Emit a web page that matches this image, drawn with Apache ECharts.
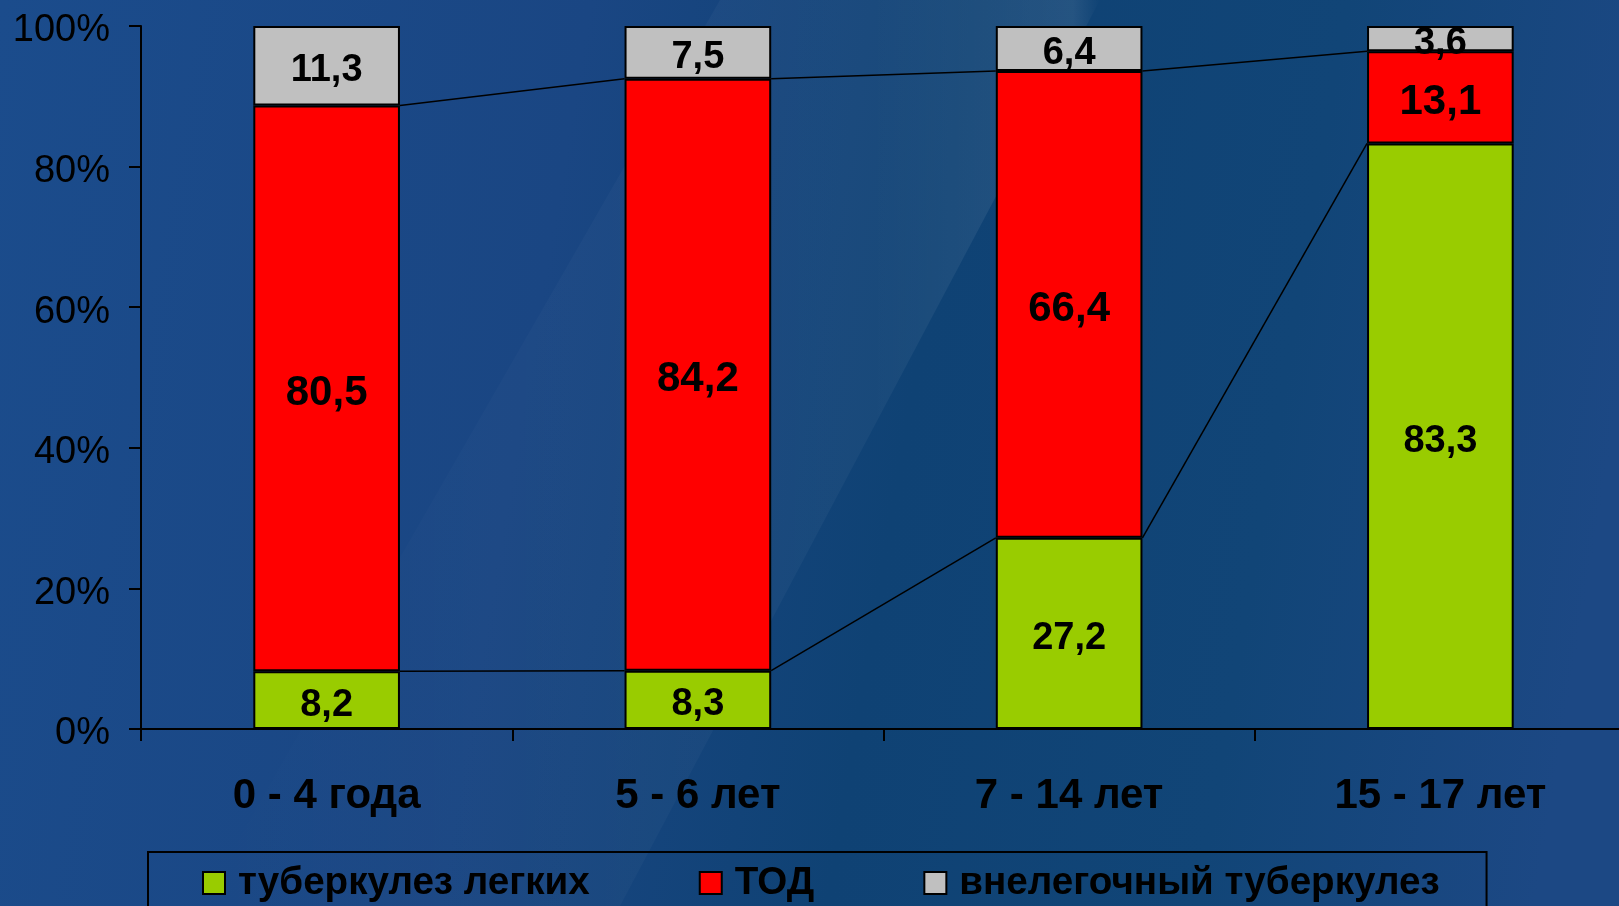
<!DOCTYPE html>
<html>
<head>
<meta charset="utf-8">
<script src="https://cdn.jsdelivr.net/npm/echarts@6/dist/echarts.min.js"></script>
<style>
  html, body { margin: 0; padding: 0; width: 100%; height: 100%; overflow: hidden; background: #184784; }
  #chart { width: 1640px; height: 906px; }
</style>
</head>
<body>
<div id="chart"></div>
<script>
// Age groups and structure of tuberculosis forms, % of cases
const categories = ['0 - 4 года', '5 - 6 лет', '7 - 14 лет', '15 - 17 лет'];
const seriesNames = ['туберкулез легких', 'ТОД', 'внелегочный туберкулез'];
const pulmonary = [8.2, 8.3, 27.2, 83.3];
const tod = [80.5, 84.2, 66.4, 13.1];
const extrapulmonary = [11.3, 7.5, 6.4, 3.6];
const yTicks = [0, 20, 40, 60, 80, 100];

const FONT = '"Liberation Sans", Arial, sans-serif';
const BAR_RATIO = 0.395;

const fmt = v => v.toFixed(1).replace('.', ',');

// Cumulative tops used for the connector ("series") lines between bars
const topPulmonary = pulmonary.slice();
const topTod = pulmonary.map((v, i) => +(v + tod[i]).toFixed(1));

function connectorData(tops) {
  const out = [];
  for (let i = 0; i < tops.length - 1; i++) out.push([i, tops[i], tops[i + 1]]);
  return out;
}

function renderConnector(params, api) {
  const i = api.value(0);
  const p1 = api.coord([i, api.value(1)]);
  const p2 = api.coord([i + 1, api.value(2)]);
  const half = api.size([1, 0])[0] * BAR_RATIO / 2;
  return {
    type: 'line',
    shape: { x1: p1[0] + half, y1: p1[1], x2: p2[0] - half, y2: p2[1] },
    style: { stroke: '#000', lineWidth: 1.5 },
    silent: true
  };
}

function barSeries(name, data, color, labelSize) {
  return {
    name: name,
    type: 'bar',
    stack: 'total',
    data: data,
    barWidth: (BAR_RATIO * 100) + '%',
    itemStyle: { color: color, borderColor: '#000', borderWidth: 2 },
    label: {
      show: true,
      position: 'inside',
      offset: [0, 5],
      color: '#000',
      fontFamily: FONT,
      fontWeight: 'bold',
      fontSize: labelSize,
      formatter: p => fmt(p.value)
    },
    emphasis: { disabled: true },
    z: 3
  };
}

const chart = echarts.init(document.getElementById('chart'), null, { renderer: 'canvas' });

chart.setOption({
  animation: false,
  backgroundColor: {
    type: 'linear', x: 0, y: 0, x2: 1, y2: 0.3,
    colorStops: [
      { offset: 0, color: '#1b4c8c' },
      { offset: 0.35, color: '#1a4683' },
      { offset: 0.58, color: '#0f4274' },
      { offset: 0.8, color: '#114577' },
      { offset: 1, color: '#1c4884' }
    ]
  },
  graphic: [
    {
      type: 'polygon',
      z: -1,
      silent: true,
      shape: { points: [[720, 0], [1100, 0], [620, 906], [200, 906]] },
      style: {
        fill: {
          type: 'linear', x: 0, y: 0, x2: 1, y2: 0,
          colorStops: [
            { offset: 0, color: 'rgba(255,255,255,0)' },
            { offset: 0.75, color: 'rgba(255,255,255,0.04)' },
            { offset: 0.97, color: 'rgba(255,255,255,0.09)' },
            { offset: 1, color: 'rgba(255,255,255,0)' }
          ]
        }
      }
    }
  ],
  grid: { left: 141, top: 26, width: 1485, height: 703, containLabel: false },
  xAxis: {
    type: 'category',
    data: categories,
    boundaryGap: true,
    axisLine: { show: true, lineStyle: { color: '#000', width: 2 } },
    axisTick: { show: true, length: 12, lineStyle: { color: '#000', width: 2 } },
    axisLabel: {
      color: '#000',
      fontFamily: FONT,
      fontWeight: 'bold',
      fontSize: 42,
      margin: 46
    },
    splitLine: { show: false }
  },
  yAxis: {
    type: 'value',
    min: yTicks[0],
    max: yTicks[yTicks.length - 1],
    interval: yTicks[1] - yTicks[0],
    axisLine: { show: true, lineStyle: { color: '#000', width: 2 } },
    axisTick: { show: true, length: 12, lineStyle: { color: '#000', width: 2 } },
    axisLabel: {
      color: '#000',
      margin: 31,
      formatter: v => '{p|' + v + '%}',
      rich: {
        p: {
          color: '#000',
          fontFamily: FONT,
          fontSize: 38,
          padding: [10, 0, 0, 0]
        }
      }
    },
    splitLine: { show: false }
  },
  legend: {
    data: seriesNames,
    left: 148,
    top: 852,
    orient: 'horizontal',
    itemWidth: 22,
    itemHeight: 22,
    itemGap: 109,
    padding: [11, 47, 60, 54],
    borderColor: '#000',
    borderWidth: 2,
    icon: 'rect',
    selectedMode: false,
    textStyle: {
      color: '#000',
      fontFamily: FONT,
      fontWeight: 'bold',
      fontSize: 38.6,
      lineHeight: 40,
      padding: [0, 0, 0, 8]
    }
  },
  series: [
    barSeries(seriesNames[0], pulmonary, '#99cc00', 38),
    barSeries(seriesNames[1], tod, '#ff0000', 42),
    barSeries(seriesNames[2], extrapulmonary, '#c0c0c0', 38),
    {
      type: 'custom',
      name: 'connector-pulmonary',
      renderItem: renderConnector,
      data: connectorData(topPulmonary),
      encode: { x: 0, y: [1, 2] },
      silent: true,
      z: 2
    },
    {
      type: 'custom',
      name: 'connector-tod',
      renderItem: renderConnector,
      data: connectorData(topTod),
      encode: { x: 0, y: [1, 2] },
      silent: true,
      z: 2
    }
  ]
});
</script>
</body>
</html>
